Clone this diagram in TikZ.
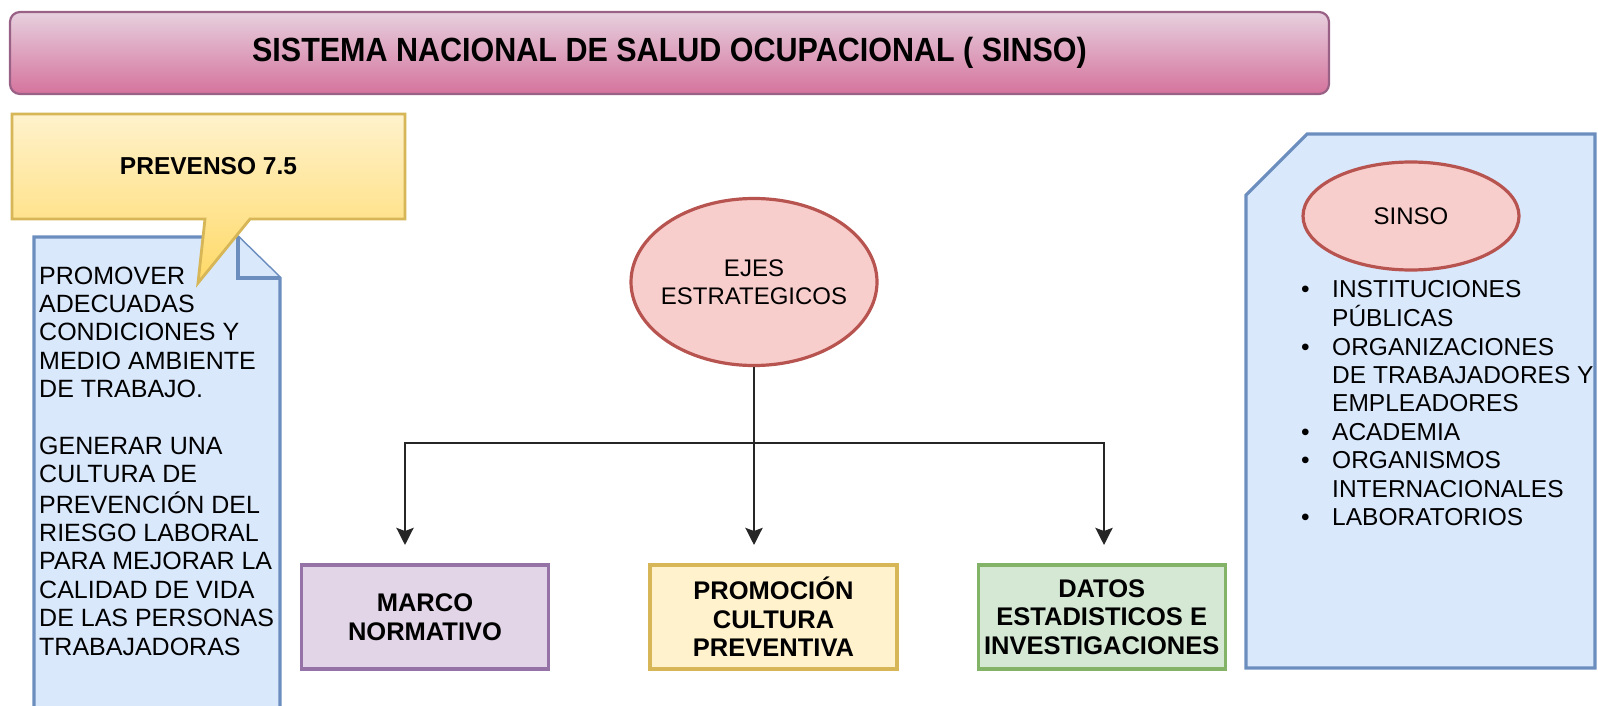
\documentclass[tikz,border=0pt]{standalone}
\usepackage{fontspec}
\setmainfont{Liberation Sans}
\usetikzlibrary{shapes.geometric,arrows.meta}
\definecolor{pinkA}{HTML}{E6D0DE}
\definecolor{pinkB}{HTML}{D5739D}
\definecolor{pinkS}{HTML}{996185}
\definecolor{yelF}{HTML}{FFF2CC}
\definecolor{yelG}{HTML}{FFD966}
\definecolor{yelS}{HTML}{D6B656}
\definecolor{bluF}{HTML}{DAE8FC}
\definecolor{bluS}{HTML}{6C8EBF}
\definecolor{redF}{HTML}{F8CECC}
\definecolor{redS}{HTML}{B85450}
\definecolor{purF}{HTML}{E1D5E7}
\definecolor{purS}{HTML}{9673A6}
\definecolor{grnF}{HTML}{D5E8D4}
\definecolor{grnS}{HTML}{82B366}
\begin{document}
\begin{tikzpicture}[x=1pt,y=-1pt,
  every node/.style={inner sep=0pt, text=black},
  boxtxt/.style={font=\fontsize{25.5}{28.5}\selectfont\bfseries, align=center},
  axisbox/.style={draw, line width=3.2pt, minimum width=247pt, minimum height=104pt, boxtxt},
  oval/.style={ellipse, draw=redS, fill=redF, line width=3.2pt, inner xsep=-25pt, inner ysep=-25pt, font=\fontsize{24}{28.5}\selectfont, align=center},
  conn/.style={line width=2.8pt, draw=black!85, -{Stealth[length=17pt,width=17pt,inset=3pt]}},
  blueshape/.style={fill=bluF, draw=bluS, line width=3.2pt, line join=miter},
]
\useasboundingbox (0,0) rectangle (1598,706);
\fill[white] (0,0) rectangle (1598,706);
\clip (0,0) rectangle (1598,706);

% title
\node[draw=pinkS, line width=2.2pt, rounded corners=10pt, top color=pinkA, bottom color=pinkB,
      minimum width=1319pt, minimum height=82pt, font=\fontsize{30.5}{36}\selectfont\bfseries]
      (title) at (669.5,53) {\scalebox{1}[1.1]{SISTEMA NACIONAL DE SALUD OCUPACIONAL ( SINSO)}};

% note (left)
\draw[blueshape] (34,237) -- (238,237) -- (280,278) -- (280,720) -- (34,720) -- cycle;
\draw[blueshape] (238,237) -- (238,278) -- (280,278);
\node[anchor=base west, font=\fontsize{25}{28.4}\selectfont] (notetext) at (39,284)
 {\begin{tabular}[t]{@{}l@{}}PROMOVER\\ADECUADAS\\CONDICIONES Y\\MEDIO AMBIENTE\\DE TRABAJO.\\ \\GENERAR UNA\\CULTURA DE\\PREVENCIÓN DEL\\RIESGO LABORAL\\PARA MEJORAR LA\\CALIDAD DE VIDA\\DE LAS PERSONAS\\TRABAJADORAS\end{tabular}};

% callout
\path[draw=yelS, line width=2.8pt, top color=yelF, bottom color=yelG, line join=miter]
  (12,114) -- (405,114) -- (405,219) -- (250,219) -- (198,283) -- (205,219) -- (12,219) -- cycle;
\node[font=\fontsize{24.5}{28}\selectfont\bfseries] (prevenso) at (208.5,166.5) {PREVENSO 7.5};

% card (right)
\draw[blueshape] (1307,134) -- (1595,134) -- (1595,668) -- (1246,668) -- (1246,195) -- cycle;
\node[oval, minimum width=216pt, minimum height=108pt] (sinso) at (1411,216) {SINSO};
\node[anchor=base west, font=\fontsize{24.5}{28.4}\selectfont] (list) at (1301,297)
 {\begin{tabular}[t]{@{}p{31pt}@{}l@{}}\textbullet & INSTITUCIONES\\ & PÚBLICAS\\ \textbullet & ORGANIZACIONES\\ & DE TRABAJADORES Y\\ & EMPLEADORES\\ \textbullet & ACADEMIA\\ \textbullet & ORGANISMOS\\ & INTERNACIONALES\\ \textbullet & LABORATORIOS\end{tabular}};

% center
\node[oval, minimum width=246pt, minimum height=167pt] (ejes) at (754,282) {EJES\\ESTRATEGICOS};

\node[axisbox, draw=purS, fill=purF] (marco) at (425,617) {MARCO\\NORMATIVO};
\node[axisbox, draw=yelS, fill=yelF] (promo) at (773.5,617) {PROMOCIÓN\\CULTURA\\PREVENTIVA};
\node[axisbox, draw=grnS, fill=grnF] (datos) at (1101.7,617) {DATOS\\ESTADISTICOS E\\INVESTIGACIONES};

\coordinate (split) at (754,443);
\coordinate (tipL) at (405,545);
\coordinate (tipM) at (754,545);
\coordinate (tipR) at (1104,545);
\draw[conn] (ejes.south) -- (tipM);
\draw[conn] (split) -| (tipL);
\draw[conn] (split) -| (tipR);
\end{tikzpicture}
\end{document}
